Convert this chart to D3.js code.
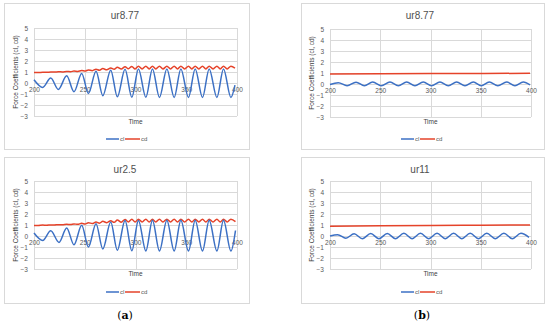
<!DOCTYPE html>
<html>
<head>
<meta charset="utf-8">
<style>
  body { margin: 0; background: #fff; font-family: "Liberation Sans", sans-serif; }
  .grid line { stroke: #d9d9d9; stroke-width: 1; shape-rendering: crispEdges; }
  .grid path { display: none; }
  .axis path { display: none; }
  .axis text { fill: #595959; font-size: 6.5px; font-family: "Liberation Sans", sans-serif; }
  .title { fill: #505050; font-size: 10px; }
  .axis_title { fill: #404040; font-size: 6.5px; }
  .legend text { fill: #595959; font-size: 6px; }
  .frame { fill: none; stroke: #d9d9d9; stroke-width: 1; shape-rendering: crispEdges; }
  .sub { font-family: "DejaVu Serif", serif; font-size: 11px; fill: #000; }
</style>
</head>
<body>
<script src="https://d3js.org/d3.v7.min.js"></script>
<script>
// values: [time, coefficient] at the turning points
var xTicks = [200, 250, 300, 350, 400];
var yTicks = [-3, -2, -1, 0, 1, 2, 3, 4, 5];

var clA1 = [[200,0.3],[208.6,-0.4],[216.5,0.45],[224,-0.58],[232.2,0.65],[239.4,-0.8],[247,0.87],
  [253.6,-0.95],[261.1,1.07],[267.8,-1.15],[275.6,1.17],[282.1,-1.25],[289.7,1.24],[296.4,-1.3],
  [302.9,1.27],[310.2,-1.3],[316.7,1.28],[323.6,-1.31],[330.9,1.28],[338.1,-1.32],[344.7,1.28],
  [352.2,-1.32],[358.8,1.28],[366,-1.32],[372.6,1.28],[380.2,-1.32],[386.7,1.28],[394,-1.32],[398,-0.2]];
var cdA1 = [[200,0.95],[204,0.95],[208.6,0.98],[212.5,0.97],[216.5,1.0],[220,0.99],[224,1.02],[228,1.01],
  [232.2,1.05],[236,1.03],[239.4,1.08],[243,1.05],[247,1.13],[250.3,1.08],[253.6,1.19],[257.4,1.12],
  [261.1,1.25],[264.5,1.16],[267.8,1.31],[271.7,1.2],[275.6,1.37],[279,1.24],[282.1,1.43],[286,1.27],
  [289.7,1.48],[293,1.29],[296.4,1.51],[299.6,1.28],[302.9,1.52],[306.5,1.28],[310.2,1.52],[313.5,1.28],
  [316.7,1.52],[320,1.28],[323.6,1.52],[327,1.28],[330.9,1.52],[334.5,1.28],[338.1,1.52],[341.4,1.28],
  [344.7,1.52],[348.4,1.28],[352.2,1.52],[355.5,1.28],[358.8,1.52],[362.4,1.28],[366,1.52],[369.3,1.28],
  [372.6,1.52],[376.4,1.28],[380.2,1.52],[383.5,1.28],[386.7,1.52],[390.3,1.28],[394,1.52],[398,1.35]];

var clA2 = [[200,0.28],[208.6,-0.4],[216.5,0.48],[224.6,-0.58],[232.2,0.73],[239.4,-0.8],[247,0.97],
  [253.6,-1.0],[261.1,1.12],[267.8,-1.18],[275.6,1.27],[282.1,-1.3],[289.7,1.4],[296.4,-1.34],
  [302.9,1.42],[310.2,-1.36],[316.7,1.43],[323.6,-1.36],[330.9,1.43],[338.1,-1.37],[344.7,1.43],
  [352.2,-1.37],[358.8,1.43],[366,-1.37],[372.6,1.43],[380.2,-1.37],[386.7,1.43],[394,-1.37],[398.5,0.5]];
var cdA2 = [[200,0.96],[204,0.96],[208.6,0.99],[212.5,0.98],[216.5,1.01],[220,1.0],[224,1.03],[228,1.02],
  [232.2,1.07],[236,1.04],[239.4,1.1],[243,1.06],[247,1.15],[250.3,1.09],[253.6,1.21],[257.4,1.13],
  [261.1,1.27],[264.5,1.17],[267.8,1.33],[271.7,1.21],[275.6,1.39],[279,1.24],[282.1,1.45],[286,1.26],
  [289.7,1.5],[293,1.28],[296.4,1.52],[299.6,1.27],[302.9,1.53],[306.5,1.27],[310.2,1.53],[313.5,1.27],
  [316.7,1.53],[320,1.27],[323.6,1.53],[327,1.27],[330.9,1.53],[334.5,1.27],[338.1,1.53],[341.4,1.27],
  [344.7,1.53],[348.4,1.27],[352.2,1.53],[355.5,1.27],[358.8,1.53],[362.4,1.27],[366,1.53],[369.3,1.27],
  [372.6,1.53],[376.4,1.27],[380.2,1.53],[383.5,1.27],[386.7,1.53],[390.3,1.27],[394,1.53],[398.5,1.3]];

var clB1 = [[200,-0.05],[208.3,0.12],[217,-0.15],[225.9,0.17],[234.2,-0.16],[242.5,0.18],[251,-0.16],
  [259.7,0.18],[268,-0.16],[276.3,0.18],[284.5,-0.16],[292.8,0.18],[301,-0.16],[309.4,0.18],[317.7,-0.16],
  [326,0.18],[334.3,-0.16],[342.6,0.18],[350.5,-0.16],[358.5,0.18],[367,-0.16],[375.8,0.18],[384,-0.16],
  [392.3,0.18],[399,-0.08]];
var cdB1 = [[200,0.9],[250,0.93],[300,0.95],[350,0.96],[399,0.97]];

var clB2 = [[200,0.0],[207.6,0.12],[215.8,-0.2],[224,0.2],[232.2,-0.24],[240.5,0.22],[248.7,-0.25],
  [257,0.23],[265.2,-0.25],[273.5,0.24],[281.7,-0.25],[290,0.24],[298.2,-0.25],[306.5,0.24],[314.7,-0.25],
  [323,0.24],[331.2,-0.25],[339.5,0.24],[347.7,-0.25],[356,0.24],[364.5,-0.25],[373,0.24],[381.5,-0.25],
  [390,0.24],[398,-0.12]];
var cdB2 = [[200,0.88],[250,0.93],[300,0.96],[350,0.98],[399,1.0]];

var panels = [
  { title: "ur8.77", cl: clA1, cd: cdA1, box: [4, 3, 249, 149],    plot: [34, 28, 237, 116],   time: 122, leg: 139, cx: 125 },
  { title: "ur8.77", cl: clB1, cd: cdB1, box: [301, 3, 544, 149],  plot: [330, 29, 531, 117],  time: 122, leg: 139, cx: 420 },
  { title: "ur2.5",  cl: clA2, cd: cdA2, box: [4, 157, 249, 303],  plot: [34, 181, 237, 269],  time: 274, leg: 292, cx: 125 },
  { title: "ur11",   cl: clB2, cd: cdB2, box: [301, 157, 544, 303], plot: [330, 181, 531, 269], time: 274, leg: 292, cx: 420 }
];

var blue = "#3c70c4", red = "#e5432a";

var svg = d3.select("body").append("svg")
    .attr("width", 550)
    .attr("height", 325);

panels.forEach(function(p) {
  var g = svg.append("g");

  g.append("rect")
    .attr("class", "frame")
    .attr("x", p.box[0] + 0.5).attr("y", p.box[1] + 0.5)
    .attr("width", p.box[2] - p.box[0]).attr("height", p.box[3] - p.box[1]);

  var x = d3.scaleLinear().domain([200, 400]).range([p.plot[0], p.plot[2]]);
  var y = d3.scaleLinear().domain([-3, 5]).range([p.plot[3], p.plot[1]]);

  // gridlines
  g.append("g").attr("class", "grid")
    .attr("transform", "translate(" + p.plot[0] + ",0)")
    .call(d3.axisLeft(y).tickValues(yTicks).tickSize(-(p.plot[2] - p.plot[0])).tickFormat(""));
  g.append("g").attr("class", "grid")
    .attr("transform", "translate(0," + p.plot[3] + ")")
    .call(d3.axisBottom(x).tickValues(xTicks).tickSize(-(p.plot[3] - p.plot[1])).tickFormat(""));

  // axes
  g.append("g").attr("class", "axis")
    .attr("transform", "translate(" + p.plot[0] + ",0)")
    .call(d3.axisLeft(y).tickValues(yTicks).tickSize(0).tickPadding(6));
  g.append("g").attr("class", "axis")
    .attr("transform", "translate(0," + y(0) + ")")
    .call(d3.axisBottom(x).tickValues(xTicks).tickSize(0).tickPadding(4));

  var line = d3.line()
    .x(function(d) { return x(d[0]); })
    .y(function(d) { return y(d[1]); })
    .curve(d3.curveMonotoneX);

  g.append("path").datum(p.cd)
    .attr("fill", "none").attr("stroke", red).attr("stroke-width", 1.5)
    .attr("d", line);
  g.append("path").datum(p.cl)
    .attr("fill", "none").attr("stroke", blue).attr("stroke-width", 1.5)
    .attr("d", line);

  g.append("text").attr("class", "title")
    .attr("x", p.cx).attr("y", p.box[1] + 16)
    .attr("text-anchor", "middle")
    .text(p.title);

  g.append("text").attr("class", "axis_title")
    .attr("transform", "translate(" + (p.plot[0] - 16) + "," + ((p.plot[1] + p.plot[3]) / 2) + ") rotate(-90)")
    .attr("text-anchor", "middle")
    .text("Force Coefficients (cl, cd)");

  g.append("text").attr("class", "axis_title")
    .attr("x", (p.plot[0] + p.plot[2]) / 2).attr("y", p.time + 2)
    .attr("text-anchor", "middle")
    .text("Time");

  // legend
  var lg = g.append("g").attr("class", "legend")
    .attr("transform", "translate(" + (p.cx - 19) + "," + p.leg + ")");
  lg.append("line").attr("x1", 0).attr("x2", 13).attr("stroke", blue).attr("stroke-width", 1.5);
  lg.append("text").attr("x", 14).attr("y", 2).text("cl");
  lg.append("line").attr("x1", 19).attr("x2", 34).attr("stroke", red).attr("stroke-width", 1.5);
  lg.append("text").attr("x", 35).attr("y", 2).text("cd");
});

// sub-figure letters
[["a", 125], ["b", 422]].forEach(function(s) {
  var t = svg.append("text").attr("class", "sub")
    .attr("x", s[1]).attr("y", 319).attr("text-anchor", "middle");
  t.append("tspan").text("(");
  t.append("tspan").attr("font-weight", "bold").text(s[0]);
  t.append("tspan").text(")");
});
</script>
</body>
</html>
